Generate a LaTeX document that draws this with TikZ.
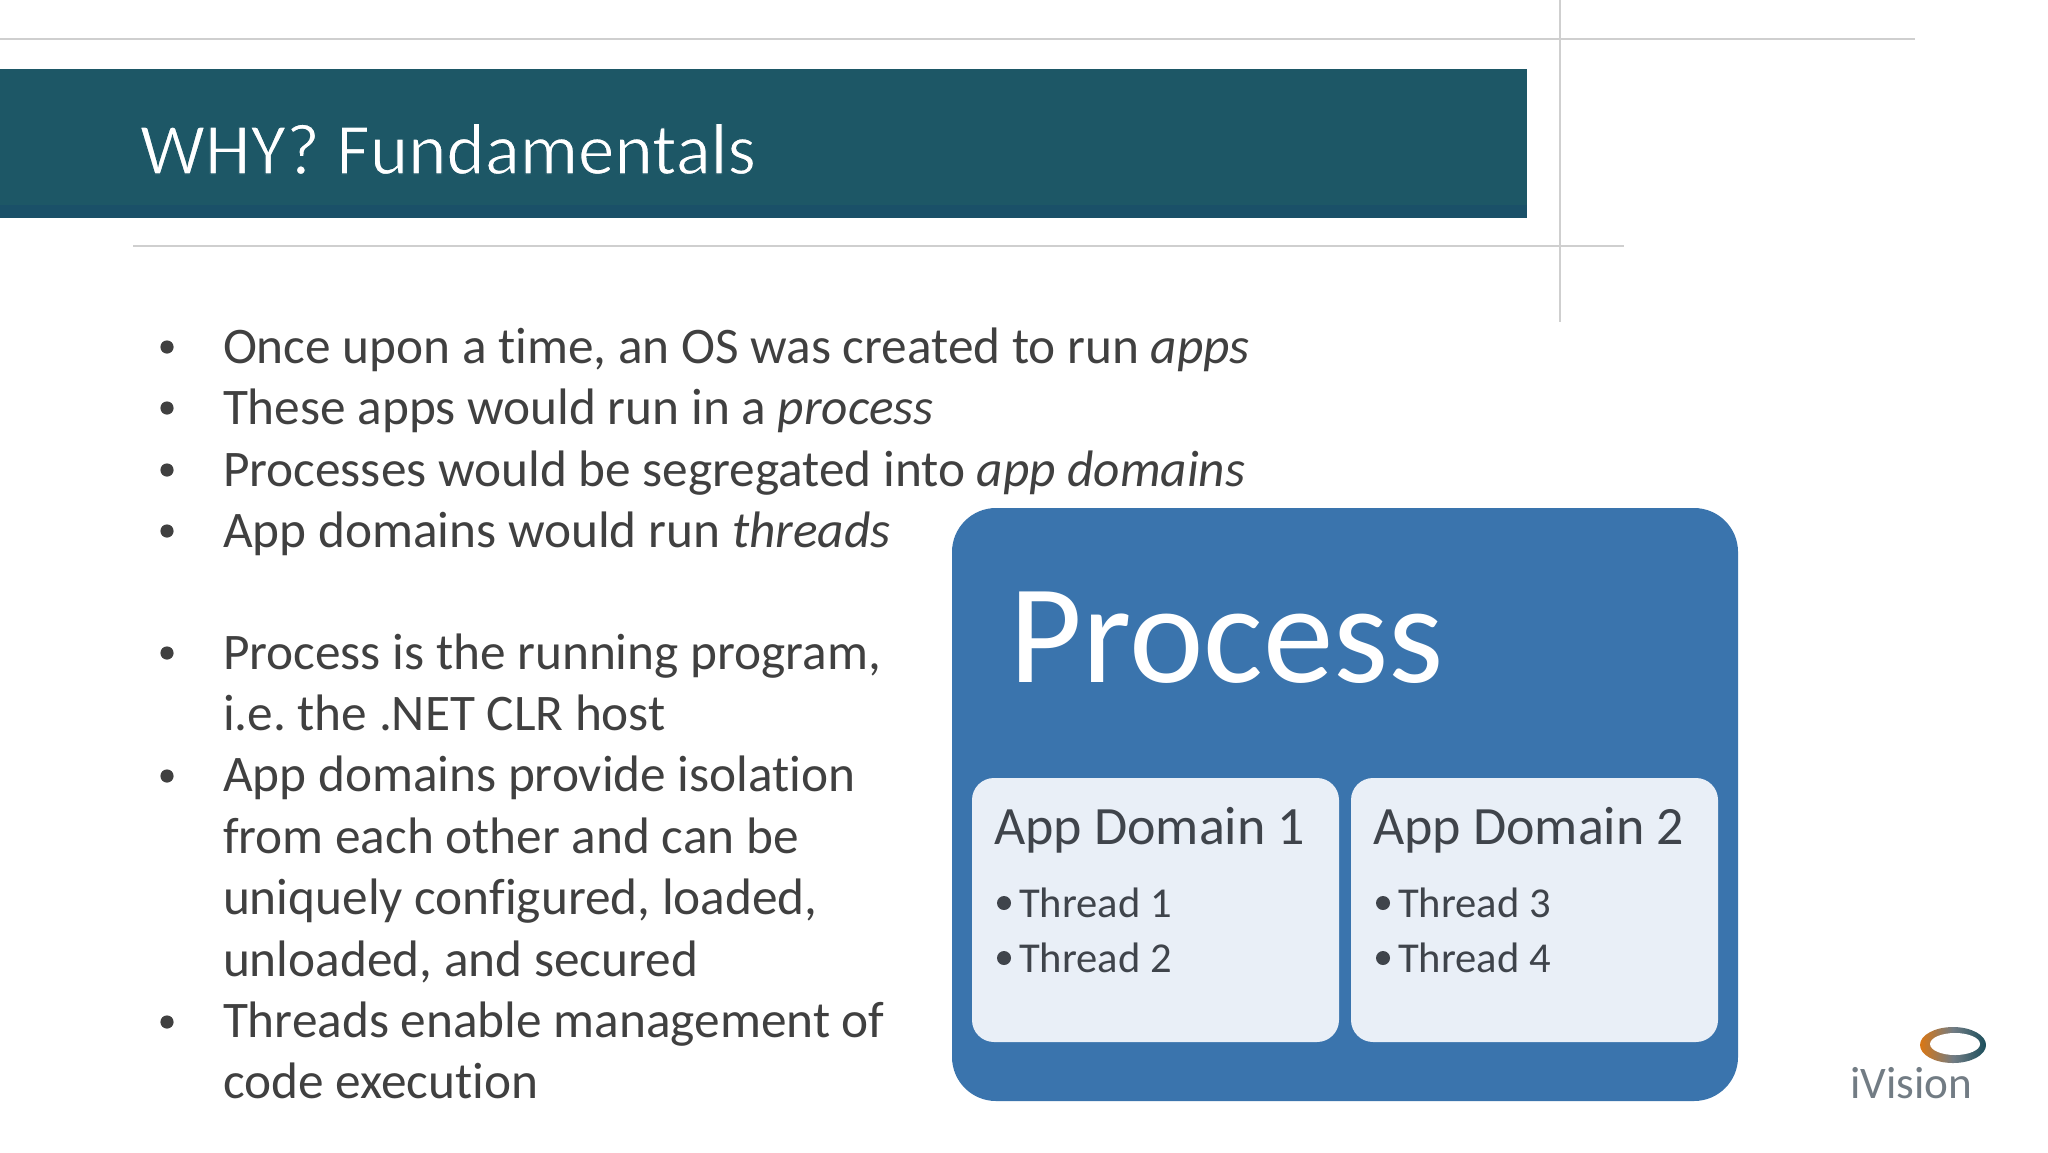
\documentclass[tikz,border=0pt]{standalone}
\usepackage{fontspec}
\setmainfont{Carlito}[Ligatures=NoCommon]
\usetikzlibrary{shadings}
\frenchspacing
\definecolor{bannerc}{HTML}{1D5766}
\definecolor{bannerd}{HTML}{1A5068}
\definecolor{rulec}{HTML}{CFCFCF}
\definecolor{bodyc}{HTML}{404040}
\definecolor{procc}{HTML}{3A74AD}
\definecolor{domc}{HTML}{E9EFF7}
\definecolor{domt}{HTML}{3F444B}
\definecolor{logot}{HTML}{727C84}
\newcommand{\thintext}[1]{\special{pdf:code q 2 Tr 0.55 w 0.114 0.341 0.4 RG}#1\special{pdf:code Q}}
\tikzset{
  x=0.5pt,y=-0.5pt,
  rulel/.style={draw=rulec,line width=1.2pt},
  txt/.style={anchor=base west,inner sep=0pt,outer sep=0pt},
  bodyt/.style={txt,text=bodyc,font=\fontsize{25.65}{30}\selectfont},
  bul/.style={circle,fill=bodyc,draw=none,minimum size=6.6pt,inner sep=0pt},
  dombox/.style={fill=domc,draw=none,rounded corners=11pt},
  domh/.style={txt,text=domt,font=\fontsize{27}{30}\selectfont},
  thr/.style={txt,text=domt,font=\fontsize{21.3}{24}\selectfont},
  dot/.style={circle,fill=domt,draw=none,minimum size=7pt,inner sep=0pt},
}
\begin{document}
\begin{tikzpicture}
\useasboundingbox (0,0) rectangle (2048,1152);
\fill[white] (0,0) rectangle (2048,1152);
% rules
\coordinate (r1a) at (0,39); \coordinate (r1b) at (1915,39);
\coordinate (r2a) at (133,246); \coordinate (r2b) at (1624,246);
\coordinate (r3a) at (1560,0); \coordinate (r3b) at (1560,322);
\draw[rulel] (r1a) -- (r1b);
\draw[rulel] (r2a) -- (r2b);
\draw[rulel] (r3a) -- (r3b);
% banner
\fill[bannerc] (0,69) rectangle (1527,218);
\fill[bannerd] (0,205) rectangle (1527,218);
\node[txt,text=white,font=\fontsize{36.5}{40}\selectfont] (title) at (140,174) {\thintext{WHY? Fundamentals}};
% body
\foreach \n/\yy in {a/347,b/408,c/470,d/531,e/653,f/776,g/1022}
  {\node[bul] (b\n) at (167,\yy) {};}
\node[bodyt] (l1) at (223,363) {Once upon a time, an OS was created to run \textit{apps}};
\node[bodyt] (l2) at (223,424) {These apps would run in a \textit{process}};
\node[bodyt] (l3) at (223,486) {Processes would be segregated into \textit{app domains}};
\node[bodyt] (l4) at (223,547) {App domains would run \textit{threads}};
\node[bodyt] (l5) at (223,669) {Process is the running program,};
\node[bodyt] (l6) at (223,730) {i.e. the .NET CLR host};
\node[bodyt] (l7) at (223,791) {App domains provide isolation};
\node[bodyt] (l8) at (223,853) {from each other and can be};
\node[bodyt] (l9) at (223,914) {uniquely configured, loaded,};
\node[bodyt] (l10) at (223,976) {unloaded, and secured};
\node[bodyt] (l11) at (223,1037) {Threads enable management of};
\node[bodyt] (l12) at (223,1098) {code execution};
% process
\fill[procc,rounded corners=22pt] (952,508) rectangle (1738,1101);
\node[txt,text=white,font=\fontsize{70.6}{80}\selectfont] (proc) at (1009,682) {Process};
\fill[dombox] (972,778) rectangle (1339,1042);
\fill[dombox] (1351,778) rectangle (1718,1042);
\node[domh] (d1) at (994,844) {App Domain 1};
\node[domh] (d2) at (1373,844) {App Domain 2};
\node[dot] (t1b) at (1004,903) {};
\node[dot] (t2b) at (1004,958) {};
\node[dot] (t3b) at (1383,903) {};
\node[dot] (t4b) at (1383,958) {};
\node[thr] (t1) at (1019,917) {Thread 1};
\node[thr] (t2) at (1019,972) {Thread 2};
\node[thr] (t3) at (1398,917) {Thread 3};
\node[thr] (t4) at (1398,972) {Thread 4};
% logo
\shade[left color=black!10!orange!70!brown,right color=bannerc!90!black,middle color=logot] (1953,1045) ellipse [x radius=33,y radius=18];
\fill[white] (1955,1044) ellipse [x radius=25,y radius=11];
\node[txt,text=logot,font=\fontsize{22.6}{26}\selectfont] (ivision) at (1850,1098) {iVision};
\end{tikzpicture}
\end{document}
